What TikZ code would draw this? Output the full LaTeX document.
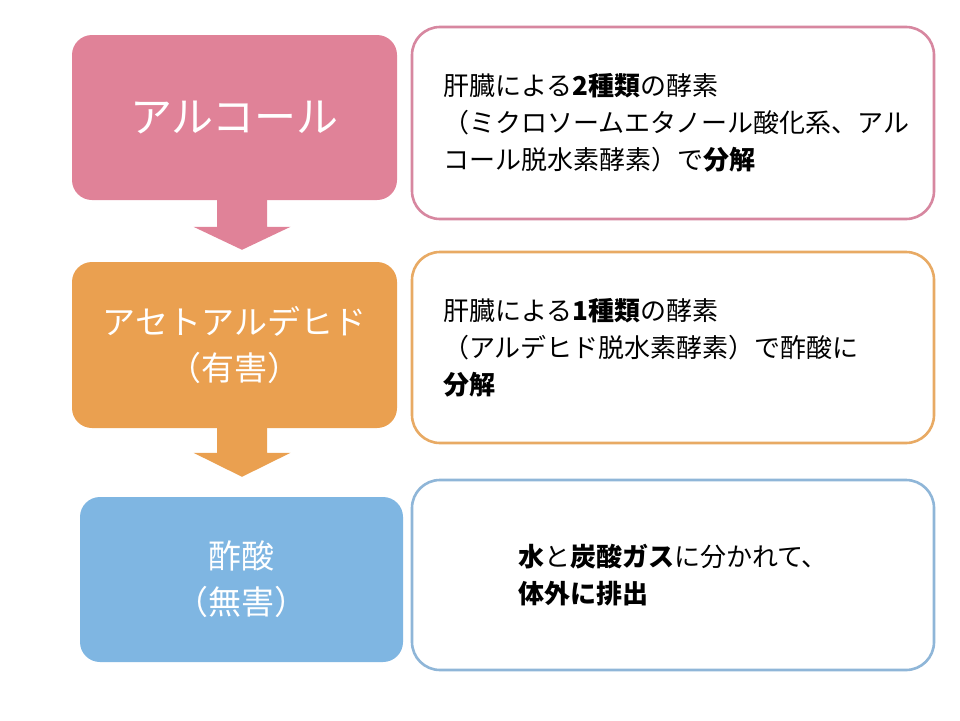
\documentclass[tikz,border=0pt]{standalone}
\usepackage{fontspec}
\setmainfont{Noto Sans CJK JP}
\usetikzlibrary{calc}
\definecolor{pinkfill}{RGB}{224,130,152}
\definecolor{orangefill}{RGB}{234,160,80}
\definecolor{bluefill}{RGB}{127,182,226}
\definecolor{pinkline}{RGB}{215,135,160}
\definecolor{orangeline}{RGB}{232,170,100}
\definecolor{blueline}{RGB}{143,182,216}
\begin{document}
\begin{tikzpicture}[x=1pt,y=-1pt,
  leftbox/.style={rounded corners=20pt, inner sep=0pt, text=white, align=center},
  rightbox/.style={rounded corners=28pt, draw, line width=2.6pt, fill=white, inner ysep=0pt,
     minimum width=522pt, align=left, font=\fontsize{26}{37}\selectfont},
  bigtext/.style={font=\fontsize{42}{50}\selectfont},
  midtext/.style={font=\fontsize{33}{46}\selectfont}]
\useasboundingbox (0,0) rectangle (960,720);
\fill[white] (0,0) rectangle (960,720);
\coordinate (ax) at (242,0);

% left boxes
\node[leftbox, fill=pinkfill, minimum width=325pt, minimum height=165pt, bigtext] (b1) at (234.5,117.5) {アルコール};
\node[leftbox, fill=orangefill, minimum width=325pt, minimum height=166pt, midtext] (b2) at (234.5,345) {アセトアルデヒド\\（有害）};
\node[leftbox, fill=bluefill, minimum width=323pt, minimum height=165pt, midtext] (b3) at (241.5,579.5) {酢酸\\（無害）};

% block arrows
\fill[pinkfill] ($(b1.south -| ax)+(-25,-1)$) -- ($(b1.south -| ax)+(25,-1)$)
  -- ($(b2.north -| ax)+(25,-35)$) -- ($(b2.north -| ax)+(48.5,-35)$)
  -- ($(b2.north -| ax)+(0,-12)$) -- ($(b2.north -| ax)+(-48.5,-35)$)
  -- ($(b2.north -| ax)+(-25,-35)$) -- cycle;
\fill[orangefill] ($(b2.south -| ax)+(-25,-1)$) -- ($(b2.south -| ax)+(25,-1)$)
  -- ($(b3.north -| ax)+(25,-44)$) -- ($(b3.north -| ax)+(48.5,-44)$)
  -- ($(b3.north -| ax)+(0,-20)$) -- ($(b3.north -| ax)+(-48.5,-44)$)
  -- ($(b3.north -| ax)+(-25,-44)$) -- cycle;

% right boxes
\node[rightbox, draw=pinkline, minimum height=192pt, text width=460pt, inner xsep=31pt] (r1) at (673,123)
  {肝臓による\textbf{2種類}の酵素\\（ミクロソームエタノール酸化系、アル\\コール脱水素酵素）で\textbf{分解}};
\node[rightbox, draw=orangeline, minimum height=191pt, text width=460pt, inner xsep=31pt] (r2) at (673,347.5)
  {肝臓による\textbf{1種類}の酵素\\（アルデヒド脱水素酵素）で酢酸に\\\textbf{分解}};
\node[rightbox, draw=blueline, minimum height=190pt] (r3) at (673,575)
  {\textbf{水}と\textbf{炭酸ガス}に分かれて、\\\textbf{体外に排出}};
\end{tikzpicture}
\end{document}
